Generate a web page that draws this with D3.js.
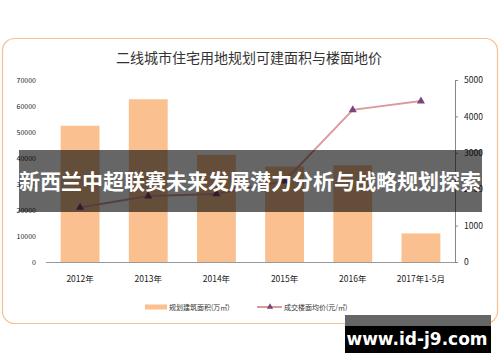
<!DOCTYPE html>
<meta charset="utf-8">
<style>
  body { margin: 0; background: #fff; }
  text { font-family: "Noto Sans CJK SC", "Noto Sans", sans-serif; }
</style>
<body>
<script src="https://d3js.org/d3.v7.min.js"></script>
<script>
// data
var years = ["2012年", "2013年", "2014年", "2015年", "2016年", "2017年1-5月"];
var area = [52400, 62600, 41200, 36700, 37200, 11000];   // 规划建筑面积(万㎡)
var price = [1500, 1810, 1870, 2220, 4180, 4420];        // 成交楼面均价(元/㎡)
var leftTicks = [0, 10000, 20000, 30000, 40000, 50000, 60000, 70000];
var rightTicks = [0, 1000, 2000, 3000, 4000, 5000];

var width = 500, height = 362;
var fmt = d3.format("d");

var svg = d3.select("body").append("svg")
    .attr("width", width)
    .attr("height", height);

// outer rounded frame
svg.append("rect")
    .attr("x", 2.5).attr("y", 38.5)
    .attr("width", 495).attr("height", 285)
    .attr("rx", 12)
    .style("fill", "#fff")
    .style("stroke", "#fac090")
    .style("stroke-width", 1.2);

svg.append("text")
    .attr("x", 249).attr("y", 63)
    .attr("text-anchor", "middle")
    .style("font-size", "14px")
    .style("fill", "#333")
    .text("二线城市住宅用地规划可建面积与楼面地价");

var x = d3.scaleBand()
    .domain(years)
    .range([46, 455])
    .paddingInner(0.43)
    .paddingOuter(0.215);

var yL = d3.scaleLinear().domain([0, 70000]).range([262, 80]);
var yR = d3.scaleLinear().domain([0, 5000]).range([262, 80]);

// bars
svg.append("g").selectAll("rect")
    .data(area)
  .enter().append("rect")
    .attr("x", function(d, i) { return x(years[i]); })
    .attr("y", function(d) { return yL(d); })
    .attr("width", x.bandwidth())
    .attr("height", function(d) { return yL(0) - yL(d); })
    .style("fill", "#fac090");

// left axis (labels only)
var gl = svg.append("g")
    .attr("transform", "translate(40,0)")
    .call(d3.axisLeft(yL).tickValues(leftTicks).tickFormat(fmt).tickSize(0).tickPadding(4));
gl.select(".domain").remove();
gl.selectAll("text").style("font-size", "7px").style("fill", "#222").attr("font-family", null);

// right axis
var gr = svg.append("g")
    .attr("transform", "translate(455,0)")
    .call(d3.axisRight(yR).tickValues(rightTicks).tickFormat(fmt).tickSize(3).tickSizeOuter(3).tickPadding(6));
gr.select(".domain").style("stroke", "#888");
gr.selectAll("line").style("stroke", "#888");
gr.selectAll("text").style("font-size", "8.5px").style("fill", "#222").attr("font-family", null);

// x axis
var gx = svg.append("g")
    .attr("transform", "translate(0,262)")
    .call(d3.axisBottom(x).tickSize(0).tickPadding(14));
gx.select(".domain").style("stroke", "#999").attr("d", "M46,0.5H455");
gx.selectAll("text").style("font-size", "8.5px").style("fill", "#222").attr("font-family", null);

// price line
var cx = function(i) { return x(years[i]) + x.bandwidth() / 2; };
var line = d3.line()
    .x(function(d, i) { return cx(i); })
    .y(function(d) { return yR(d); });

svg.append("path")
    .datum(price)
    .attr("d", line)
    .style("fill", "none")
    .style("stroke", "#dc9a9e")
    .style("stroke-width", 2);

var tri = d3.symbol().type(d3.symbolTriangle).size(28);
svg.append("g").selectAll("path")
    .data(price)
  .enter().append("path")
    .attr("d", tri)
    .attr("transform", function(d, i) { return "translate(" + cx(i) + "," + yR(d) + ")"; })
    .style("fill", "#7a4578");

// legend
var lg = svg.append("g").attr("transform", "translate(0,307)");
lg.append("rect").attr("x", 145).attr("y", -2.5).attr("width", 22).attr("height", 5).style("fill", "#fac090");
lg.append("text").attr("x", 169).attr("y", 2.5).style("font-size", "7px").style("fill", "#333")
    .text("规划建筑面积(万㎡)");
lg.append("line").attr("x1", 257).attr("x2", 282).attr("y1", 0).attr("y2", 0)
    .style("stroke", "#dc9a9e").style("stroke-width", 2);
lg.append("path").attr("d", d3.symbol().type(d3.symbolTriangle).size(18))
    .attr("transform", "translate(270,0)").style("fill", "#7a4578");
lg.append("text").attr("x", 284).attr("y", 2.5).style("font-size", "7px").style("fill", "#333")
    .text("成交楼面均价(元/㎡)");

// overlay banner
svg.append("rect")
    .attr("x", 19).attr("y", 150)
    .attr("width", 463).attr("height", 62)
    .style("fill", "#000")
    .style("fill-opacity", 0.6);
svg.append("text")
    .attr("x", 250).attr("y", 189)
    .attr("text-anchor", "middle")
    .style("font-size", "21px")
    .style("font-weight", "bold")
    .style("fill", "#fff")
    .text("新西兰中超联赛未来发展潜力分析与战略规划探索");

// watermark
svg.append("rect")
    .attr("x", 345).attr("y", 315).attr("width", 146).attr("height", 11)
    .style("fill", "#666");
svg.append("rect")
    .attr("x", 345).attr("y", 326).attr("width", 146).attr("height", 27)
    .style("fill", "#000");
svg.append("text")
    .attr("x", 417).attr("y", 345)
    .attr("text-anchor", "middle")
    .style("font-size", "17px")
    .style("font-weight", "bold")
    .style("font-family", "'DejaVu Sans', sans-serif")
    .style("fill", "#fff")
    .text("www.id-j9.com");
</script>
</body>
</html>
